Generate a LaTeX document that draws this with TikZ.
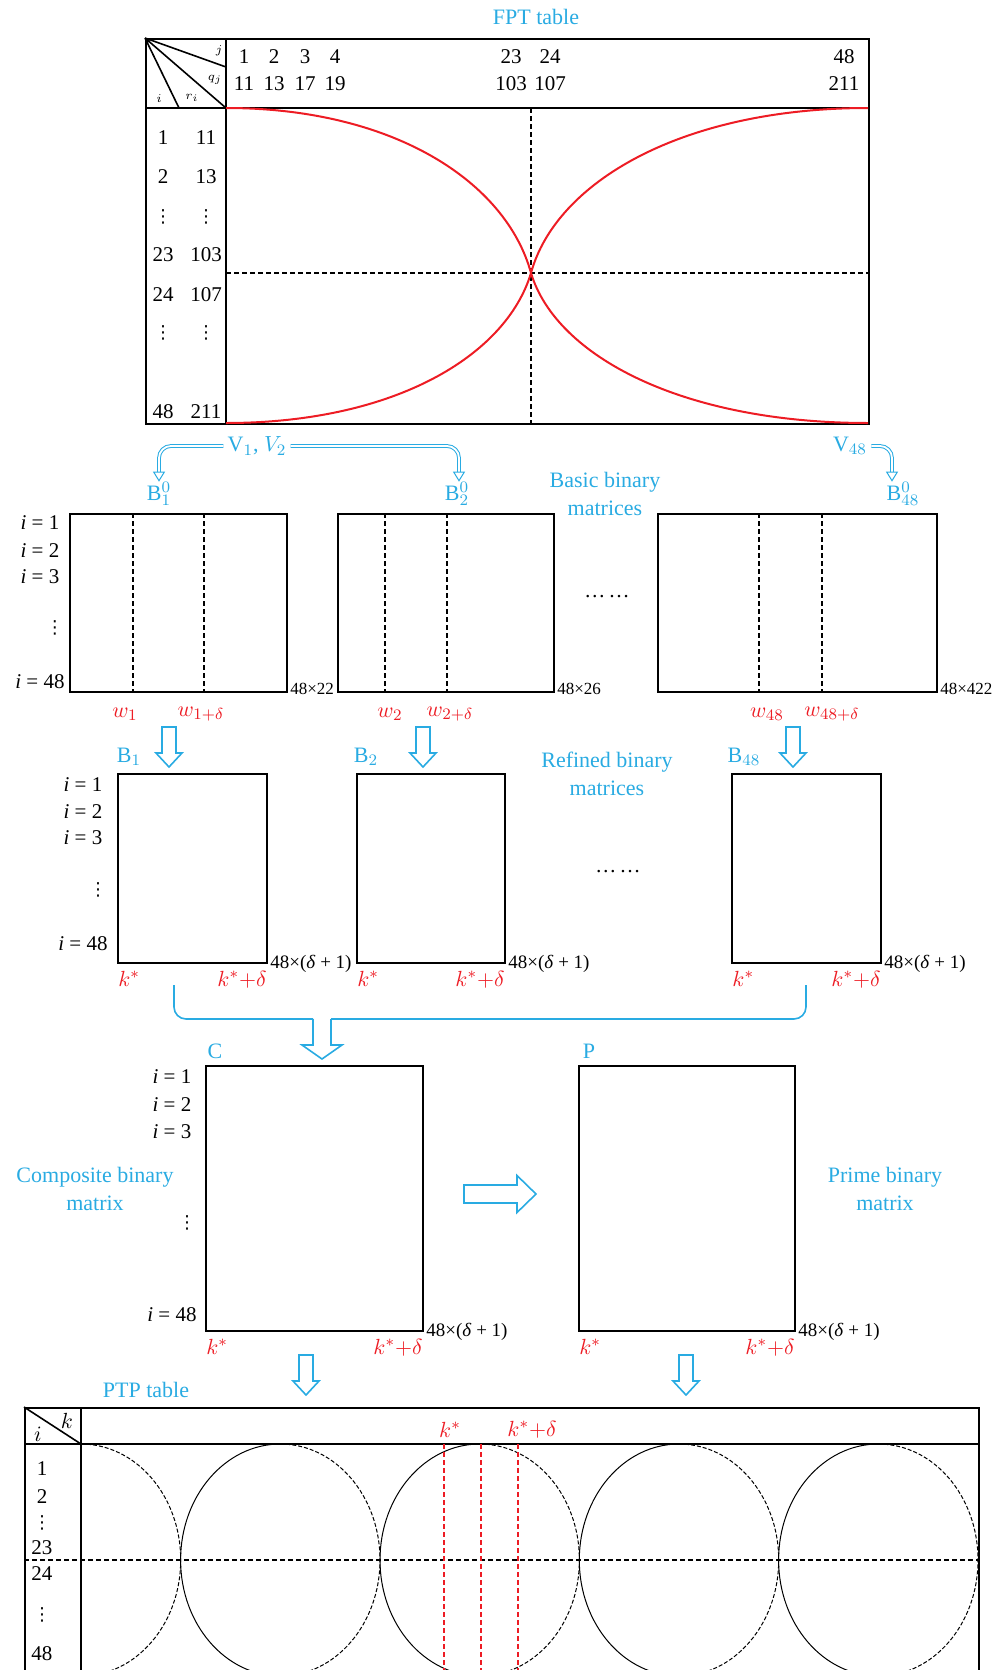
\documentclass[tikz,border=0pt]{standalone}
\usepackage{fontspec}
\setmainfont{Liberation Serif}
\newfontfamily\symfont{DejaVu Sans}
\usetikzlibrary{arrows.meta,positioning}
\definecolor{skyblue}{RGB}{41,171,226}
\definecolor{markred}{RGB}{237,28,36}
\newcommand{\vdotcol}{{\symfont\fontsize{9}{10}\selectfont ⋮}}

\begin{document}
\begin{tikzpicture}[x=0.5pt, y=-0.5pt,
    every node/.style={inner sep=1pt, font=\fontsize{10.5}{12}\selectfont},
    mat/.style 2 args={draw, line width=1pt, anchor=north west, inner sep=0pt, minimum width=#1*0.5pt, minimum height=#2*0.5pt},
    sep/.style={line width=0.9pt, dash pattern=on 2.5pt off 1.5pt},
    title/.style={text=skyblue, inner sep=0pt, font=\fontsize{11}{14}\selectfont, align=center},
    redtag/.style={text=markred, inner sep=0.5pt, font=\fontsize{11}{13}\selectfont},
    dimtag/.style={anchor=west, inner sep=0pt, xshift=1pt, font=\fontsize{8.5}{10}\selectfont},
    corner/.style={inner sep=0pt, font=\fontsize{6}{7}\selectfont},
    hollow/.style={draw=skyblue, line width=0.8pt},
    feed/.style={draw=skyblue, double=white, double distance=0.9pt, line width=0.5pt, rounded corners=6pt, -{Triangle[open, width=6pt, length=5pt, fill=white]}},
    pics/downblock/.style={code={\draw[hollow] (-7,0) -- (-7,26) -- (-13,26) -- (0,40) -- (13,26) -- (7,26) -- (7,0) -- cycle;}},
    pics/rightblock/.style={code={\draw[hollow] (0,-9) -- (53,-9) -- (53,-18.5) -- (72,0) -- (53,18.5) -- (53,9) -- (0,9) -- cycle;}}
]
\useasboundingbox (0,0) rectangle (998,1670);

% FPT table
\node[title] (fpttitle) at (536,17) {FPT table};
\node[mat={723}{385}] (fpt) at (145,38) {};
\draw[line width=1pt] (145,108) -- (868,108) (226,38) -- (226,423);
\draw[line width=0.8pt] (145,38) -- (226,67) (145,38) -- (226,108) (145,38) -- (179,108);
\node[corner] (hj) at (219,51) {$j$};
\node[corner] (hq) at (215,80) {$q_j$};
\node[corner] (hi) at (159,99) {$i$};
\node[corner] (hr) at (192,98) {$r_i$};
\foreach \x/\j/\q in {244/1/11, 274/2/13, 305/3/17, 335/4/19, 511/23/103, 550/24/107, 844/48/211} {
  \node (j\j) at (\x,57) {\j};
  \node (q\j) at (\x,84) {\q};
}
\foreach \y/\i/\r [count=\n] in {138/1/11, 177/2/13, 217/\vdotcol/\vdotcol, 255/23/103, 295/24/107, 333/\vdotcol/\vdotcol, 412/48/211} {
  \node (ri\n) at (163,\y) {\i};
  \node (rr\n) at (206,\y) {\r};
}
\draw[sep] (226,273) -- (868,273);
\draw[sep] (531,108) -- (531,423);
\draw[markred, line width=1pt] (226,108) .. controls (394,108) and (506,182) .. (531,273) .. controls (556,356) and (682,423) .. (868,423);
\draw[markred, line width=1pt] (226,423) .. controls (394,423) and (506,356) .. (531,273) .. controls (556,182) and (682,108) .. (868,108);

% basic binary matrices
\node[mat={217}{178}] (b10) at (69,513) {};
\node[mat={216}{178}] (b20) at (337,513) {};
\node[mat={279}{178}] (b480) at (657,513) {};
\foreach \x in {133,204,385,447,759,822}
  \draw[sep, line width=0.8pt] (\x,513) -- (\x,691);
\node[dimtag, yshift=2pt] (d10) at (b10.south east) {48×22};
\node[dimtag, yshift=2pt] (d20) at (b20.south east) {48×26};
\node[dimtag, yshift=2pt] (d480) at (b480.south east) {48×422};
\node[title] (l10) at (159,494) {$\mathrm{B}_1^0$};
\node[title] (l20) at (457,494) {$\mathrm{B}_2^0$};
\node[title] (l480) at (903,494) {$\mathrm{B}_{48}^0$};
\node[title, inner sep=2pt] (v12) at (257,446) {$\mathrm{V}_1$, $V_2$};
\node[title, inner sep=2pt] (v48) at (850,446) {$\mathrm{V}_{48}$};
\draw[feed] (v12.west) -| (l10.north);
\draw[feed] (v12.east) -| ([xshift=1pt]l20.north);
\draw[feed] (v48.east) -| ([xshift=-5.5pt]l480.north);
\node[title] (basic) at (605,494) {Basic binary\\matrices};
\node (dots1) at (607,597) {\dots\,\dots};

% refined binary matrices
\node[mat={149}{189}] (b1) at (117,773) {};
\node[mat={148}{189}] (b2) at (356,773) {};
\node[mat={149}{189}] (b48) at (731,773) {};
\pic (a1) at (169,727) {downblock};
\pic (a2) at (423,727) {downblock};
\pic (a48) at (793,727) {downblock};
\node[redtag] (w1) at (125,714) {$w_1$};
\node[redtag] (w1d) at (201,714) {$w_{1+\delta}$};
\node[redtag] (w2) at (390,714) {$w_2$};
\node[redtag] (w2d) at (450,714) {$w_{2+\delta}$};
\node[redtag] (w48) at (767,714) {$w_{48}$};
\node[redtag] (w48d) at (832,714) {$w_{48+\delta}$};
\node[title] (l1) at (129,757) {$\mathrm{B}_1$};
\node[title] (l2) at (366,757) {$\mathrm{B}_2$};
\node[title] (l48) at (744,757) {$\mathrm{B}_{48}$};
\foreach \m in {b1,b2,b48} {
  \node[dimtag, font=\fontsize{9.5}{11}\selectfont] (d\m) at (\m.south east) {48×(\textit{δ} + 1)};
  \node[redtag, anchor=north west] (k\m) at ([yshift=-3pt]\m.south west) {$k^*$};
  \node[redtag, anchor=north east] (kd\m) at ([yshift=-3pt]\m.south east) {$k^*{+}\delta$};
}
\node[title] (refined) at (607,774) {Refined binary\\matrices};
\node (dots2) at (618,872) {\dots\,\dots};

% row labels
\foreach \cx/\ya/\yb/\yc/\yd/\ye in {40/523/551/577/628/682, 83/785/812/838/890/944, 172/1077/1105/1132/1223/1315} {
  \node (ia\cx) at (\cx,\ya) {\textit{i} = 1};
  \node (ib\cx) at (\cx,\yb) {\textit{i} = 2};
  \node (ic\cx) at (\cx,\yc) {\textit{i} = 3};
  \node (id\cx) at (\cx+15,\yd) {\vdotcol};
  \node (ie\cx) at (\cx,\ye) {\textit{i} = 48};
}

% merge into C
\coordinate (m1) at (174,985);
\coordinate (m48) at (806,985);
\draw[hollow, rounded corners=6pt] (m1) |- (313,1019);
\draw[hollow, rounded corners=6pt] (331,1019) -| (m48);
\draw[hollow] (313,1019) -- (313,1045) -- (302,1045) -- (322,1059) -- (342,1045) -- (331,1045) -- (331,1019);

% composite and prime matrices
\node[mat={217}{265}] (cmat) at (205,1065) {};
\node[mat={216}{265}] (pmat) at (578,1065) {};
\node[title] (lc) at (215,1051) {C};
\node[title] (lp) at (589,1051) {P};
\foreach \m in {cmat,pmat} {
  \node[dimtag, font=\fontsize{9.5}{11}\selectfont] (d\m) at (\m.south east) {48×(\textit{δ} + 1)};
  \node[redtag, anchor=north west] (k\m) at ([yshift=-3pt]\m.south west) {$k^*$};
  \node[redtag, anchor=north east] (kd\m) at ([yshift=-3pt]\m.south east) {$k^*{+}\delta$};
}
\pic (toP) at (464,1194) {rightblock};
\node[title] (composite) at (95,1189) {Composite binary\\matrix};
\node[title] (prime) at (885,1189) {Prime binary\\matrix};
\pic (ac) at (306,1355) {downblock};
\pic (ap) at (686,1355) {downblock};

% PTP table
\node[title] (ptptitle) at (146,1390) {PTP table};
\node[mat={954}{290}] (ptp) at (24,1407) {};
\draw[line width=1pt] (24,1444) -- (978,1444) (81,1407) -- (81,1697);
\draw[line width=0.8pt] (24,1407) -- (81,1444);
\node[font=\fontsize{11}{13}\selectfont] (hk) at (67,1421) {$k$};
\node[font=\fontsize{11}{13}\selectfont] (hi2) at (38,1434) {$i$};
\foreach \y/\i [count=\n] in {1469/1, 1497/2, 1523/\vdotcol, 1548/23, 1574/24, 1615/\vdotcol, 1654/48}
  \node (p\n) at (42,\y) {\i};
\foreach \cx in {280.3,479.7,679,878.3}
  \draw[line width=0.5pt] (\cx,1444) arc[start angle=90, end angle=270, x radius=49.85pt, y radius=58pt];
\foreach \cx in {81,280.3,479.7,679,878.3}
  \draw[line width=0.5pt, dash pattern=on 2pt off 1pt] (\cx,1444) arc[start angle=90, end angle=-90, x radius=49.85pt, y radius=58pt];
\draw[sep] (24,1560) -- (978,1560);
\foreach \x in {444,481,518}
  \draw[markred, line width=0.7pt, dash pattern=on 2.5pt off 1.5pt] (\x,1444) -- (\x,1690);
\node[redtag] (pk) at (450,1430) {$k^*$};
\node[redtag] (pkd) at (532,1430) {$k^*{+}\delta$};
\end{tikzpicture}
\end{document}
